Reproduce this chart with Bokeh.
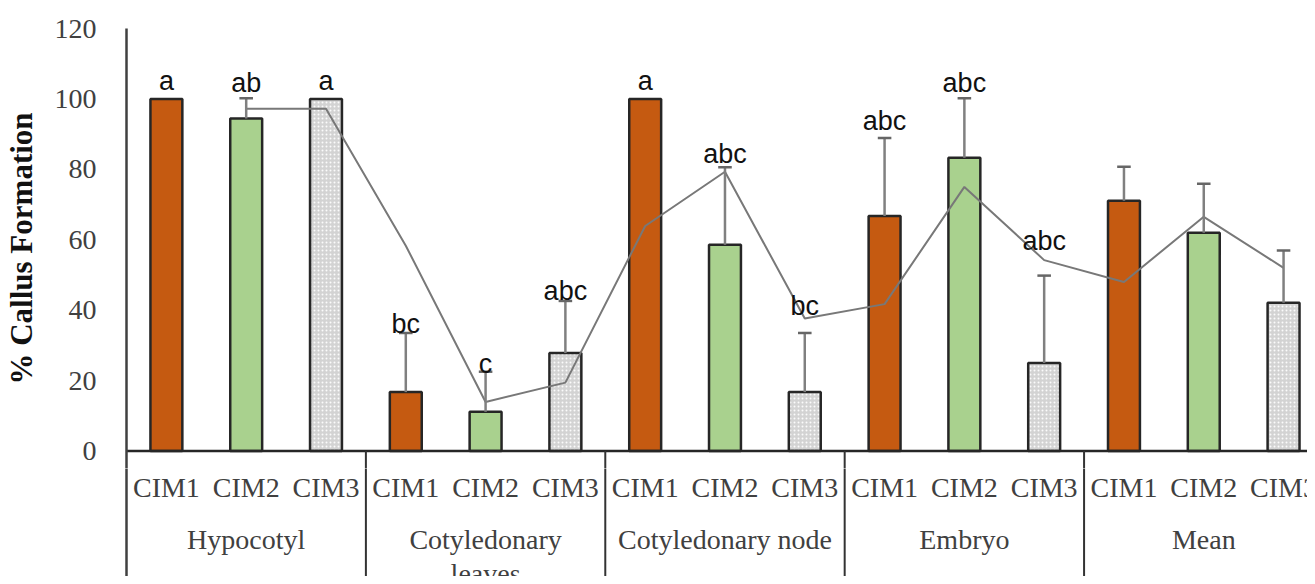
from bokeh.plotting import figure
from bokeh.models import ColumnDataSource, FixedTicker, Range1d
from bokeh.layouts import column
from bokeh.core.properties import value
from bokeh.embed import file_html
from bokeh.resources import INLINE

# ---- data ----
groups = ["Hypocotyl", "Cotyledonary\nleaves", "Cotyledonary node", "Embryo", "Mean"]
media = ["CIM1", "CIM2", "CIM3"]
cim1 = [100.0, 16.7, 100.0, 66.7, 71.1]
cim2 = [94.4, 11.1, 58.6, 83.3, 62.0]
cim3 = [100.0, 27.8, 16.7, 25.0, 42.1]
err1 = [0.0, 16.8, 0.0, 22.2, 9.6]
err2 = [5.8, 11.4, 22.0, 16.9, 13.9]
err3 = [0.0, 14.8, 16.8, 24.8, 14.8]
letters1 = ["a", "bc", "a", "abc", ""]
letters2 = ["ab", "c", "abc", "abc", ""]
letters3 = ["a", "abc", "bc", "abc", ""]
letter_y1 = [105.2, 36.1, 105.2, 93.8, 0]
letter_y2 = [104.6, 24.7, 84.4, 104.6, 0]
letter_y3 = [105.2, 45.5, 41.2, 59.7, 0]
# gray trend line, one value per bar, None where absent
trend = [None, 97.2, 97.2, 58.3, 13.9, 19.4, 63.9, 79.3, 37.6, 41.7, 75.0, 54.2, 48.0, 66.5, 52.0]
y_ticks = [0, 20, 40, 60, 80, 100, 120]

colors = {"CIM1": "#C55A11", "CIM2": "#A9D18E", "CIM3": "#D3D3D3"}

vals = {"CIM1": cim1, "CIM2": cim2, "CIM3": cim3}
errs = {"CIM1": err1, "CIM2": err2, "CIM3": err3}
lets = {"CIM1": letters1, "CIM2": letters2, "CIM3": letters3}
lety = {"CIM1": letter_y1, "CIM2": letter_y2, "CIM3": letter_y3}

n_med = len(media)
n_slots = len(groups) * n_med
TXT = "#404040"
AX = "#404040"

xr = Range1d(0, 14.8)
sep_x = [gi * n_med for gi in range(1, len(groups))]

# ---------- upper figure: bars ----------
p = figure(width=1307, height=468, output_backend="svg", toolbar_location=None,
           x_range=xr, y_range=Range1d(-5, 120),
           x_axis_location=None, min_border_left=123, min_border_top=28,
           min_border_bottom=0, min_border_right=0)
p.outline_line_color = None
p.xgrid.visible = False
p.ygrid.visible = False

for mi, m in enumerate(media):
    xs = [gi * n_med + mi + 0.5 for gi in range(len(groups))]
    src = ColumnDataSource(dict(x=xs, top=vals[m]))
    kw = {}
    if m == "CIM3":
        kw = dict(hatch_pattern="dot", hatch_color="white", hatch_scale=4, hatch_weight=1.2, hatch_alpha=0.9)
    p.vbar(x="x", top="top", width=0.4, bottom=0, source=src, fill_color=colors[m],
           line_color="#262626", line_width=2.5, **kw)

# trend line
tx = [i + 0.5 for i, t in enumerate(trend) if t is not None]
ty = [t for t in trend if t is not None]
p.line(tx, ty, line_color="#787878", line_width=2)

# error bars and letters
for mi, m in enumerate(media):
    ex, eb, et, lx, ly, lt = [], [], [], [], [], []
    for gi in range(len(groups)):
        x = gi * n_med + mi + 0.5
        if errs[m][gi] > 0:
            ex.append(x)
            eb.append(vals[m][gi])
            et.append(vals[m][gi] + errs[m][gi])
        if lets[m][gi]:
            lx.append(x)
            ly.append(lety[m][gi])
            lt.append(lets[m][gi])
    p.segment(x0=ex, y0=eb, x1=ex, y1=et, line_color="#808080", line_width=2.5)
    p.segment(x0=[x - 0.085 for x in ex], y0=et, x1=[x + 0.085 for x in ex], y1=et,
              line_color="#666666", line_width=2.5)
    p.text(x=lx, y=ly, text=lt, text_align="center", text_baseline="alphabetic",
           text_font=value("Liberation Sans"), text_font_size="27px", text_color="#111111")

# baseline and start of the separators
p.segment(x0=[0], y0=[0], x1=[n_slots], y1=[0], line_color="#262626", line_width=2.5)
p.segment(x0=sep_x, y0=[0] * len(sep_x), x1=sep_x, y1=[-10] * len(sep_x),
          line_color="#333333", line_width=2)

p.yaxis.ticker = FixedTicker(ticks=y_ticks)
p.yaxis.major_tick_line_color = None
p.yaxis.minor_tick_line_color = None
p.yaxis.axis_line_color = AX
p.yaxis.axis_line_width = 2.5
p.yaxis.major_label_text_font = "Liberation Serif"
p.yaxis.major_label_text_font_size = "28px"
p.yaxis.major_label_text_color = TXT
p.yaxis.major_label_standoff = 24
p.yaxis.axis_label = "% Callus Formation"
p.yaxis.axis_label_text_font = "Liberation Serif"
p.yaxis.axis_label_text_font_style = "bold"
p.yaxis.axis_label_text_font_size = "31px"
p.yaxis.axis_label_text_color = "#111111"
p.yaxis.axis_label_standoff = 13

# ---------- lower figure: two-level category axis ----------
p2 = figure(width=1307, height=108, output_backend="svg", toolbar_location=None,
            x_range=xr, y_range=Range1d(-35.68, -5),
            x_axis_location=None, min_border_left=123, min_border_top=0,
            min_border_bottom=0, min_border_right=0)
p2.outline_line_color = None
p2.xgrid.visible = False
p2.ygrid.visible = False
p2.yaxis.ticker = FixedTicker(ticks=[])
p2.yaxis.major_tick_line_color = None
p2.yaxis.minor_tick_line_color = None
p2.yaxis.axis_line_color = AX
p2.yaxis.axis_line_width = 2.5

p2.segment(x0=sep_x, y0=[0] * len(sep_x), x1=sep_x, y1=[-40] * len(sep_x),
           line_color="#333333", line_width=2)
cx = [gi * n_med + mi + 0.5 for gi in range(len(groups)) for mi in range(n_med)]
ct = [m for gi in range(len(groups)) for m in media]
p2.text(x=cx, y=[-10.5] * len(cx), text=ct, text_align="center", text_baseline="middle",
        text_font=value("Liberation Serif"), text_font_size="28px", text_color=TXT)
gx = [gi * n_med + n_med / 2 for gi in range(len(groups))]
p2.text(x=gx, y=[-20.8] * len(gx), text=groups, text_align="center", text_baseline="top",
        text_font=value("Liberation Serif"), text_font_size="28px", text_color=TXT,
        text_line_height=1.08)

layout = column(p, p2, spacing=0)
open("out.html", "w").write(file_html(layout, INLINE))
